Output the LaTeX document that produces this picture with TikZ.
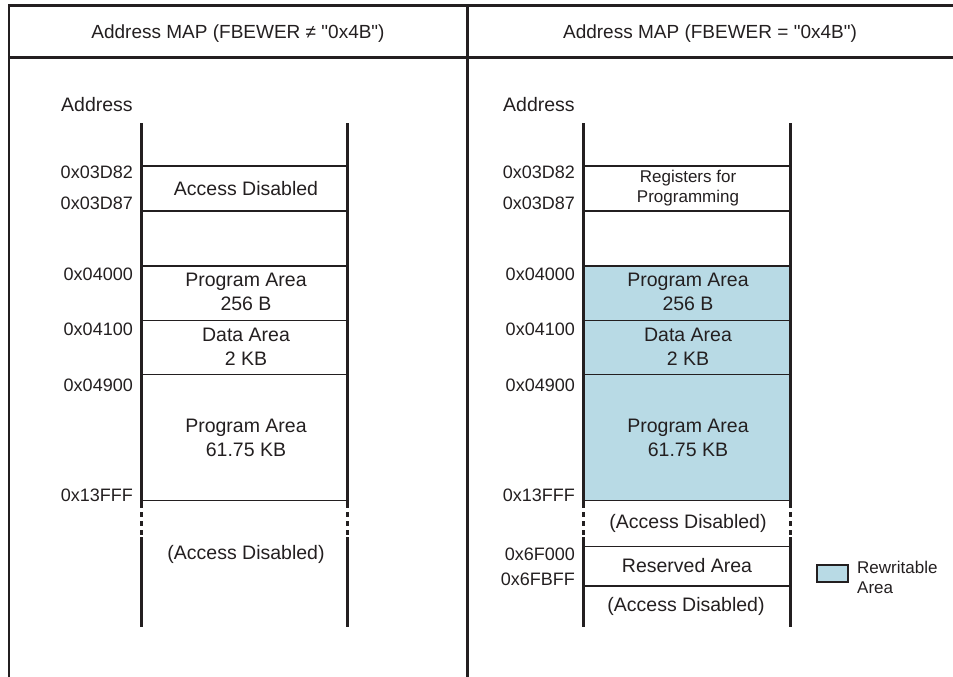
\documentclass[tikz,border=0pt]{standalone}
\usepackage{fontspec}
\setmainfont{Liberation Sans}[Ligatures=TeXOff]
\definecolor{ink}{HTML}{231F20}
\definecolor{rewblue}{HTML}{B8DAE5}
\begin{document}
\begin{tikzpicture}[x=1pt,y=-1pt,
  frame/.style={draw=ink,line width=2.6pt},
  colline/.style={draw=ink,line width=3pt},
  dotline/.style={draw=ink,line width=3pt,dash pattern=on 5pt off 4pt},
  sepline/.style={draw=ink,line width=1.5pt},
  title/.style={text=ink,font=\fontsize{19}{22}\selectfont,inner sep=0pt},
  main/.style={text=ink,font=\fontsize{19.5}{24}\selectfont,align=center,inner sep=0pt},
  small/.style={text=ink,font=\fontsize{17}{20}\selectfont,align=center,inner sep=0pt},
  addr/.style={text=ink,font=\fontsize{18}{21}\selectfont,anchor=east,inner sep=0pt},
  lbl/.style={text=ink,font=\fontsize{19.5}{23}\selectfont,anchor=west,inner sep=0pt}]
\useasboundingbox (0,0) rectangle (953,677);
% frame
\draw[frame] (9,677) -- (9,5.5) -- (953,5.5);
\draw[frame] (9,57.3) -- (953,57.3);
\draw[frame] (467.3,5.5) -- (467.3,677);
\node[title] (t1) at (238,34) {Address MAP (FBEWER ≠ "0x4B")};
\node[title] (t2) at (710,34) {Address MAP (FBEWER = "0x4B")};
\node[lbl] (a1) at (61,105) {Address};
\node[lbl] (a2) at (503,105) {Address};

% right column fill
\fill[rewblue] (583,266) rectangle (790,500);

% ---------- left column ----------
\foreach \y in {166,211,266,320.5,374.5,500.5}
  \draw[sepline] (141.5,\y) -- (347,\y);
\foreach \x in {141.5,347}{
  \draw[colline] (\x,123) -- (\x,503);
  \draw[dotline] (\x,503) -- (\x,537);
  \draw[colline] (\x,537) -- (\x,627);
}
\node[addr] (l1) at (133,172) {0x03D82};
\node[addr] (l2) at (133,203) {0x03D87};
\node[addr] (l3) at (133,274) {0x04000};
\node[addr] (l4) at (133,329) {0x04100};
\node[addr] (l5) at (133,385) {0x04900};
\node[addr] (l6) at (133,495) {0x13FFF};
\node[main] (lA) at (246,189) {Access Disabled};
\node[main] (lB) at (246,292) {Program Area\\256 B};
\node[main] (lC) at (246,347) {Data Area\\2 KB};
\node[main] (lD) at (246,438) {Program Area\\61.75 KB};
\node[main] (lE) at (246,554) {(Access Disabled)};

% ---------- right column ----------
\foreach \y in {166,211,266,320.5,374.5,500.5,546.5,586}
  \draw[sepline] (583,\y) -- (790,\y);
\foreach \x in {583,790}{
  \draw[colline] (\x,123) -- (\x,503);
  \draw[dotline] (\x,503) -- (\x,537);
  \draw[colline] (\x,537) -- (\x,627);
}
\node[addr] (r1) at (575,172) {0x03D82};
\node[addr] (r2) at (575,203) {0x03D87};
\node[addr] (r3) at (575,274) {0x04000};
\node[addr] (r4) at (575,329) {0x04100};
\node[addr] (r5) at (575,385) {0x04900};
\node[addr] (r6) at (575,495) {0x13FFF};
\node[addr] (r7) at (575,554) {0x6F000};
\node[addr] (r8) at (575,579) {0x6FBFF};
\node[small] (rA) at (688,188.5) {Registers for\\Programming};
\node[main] (rB) at (688,292) {Program Area\\256 B};
\node[main] (rC) at (688,347) {Data Area\\2 KB};
\node[main] (rD) at (688,438) {Program Area\\61.75 KB};
\node[main] (rE) at (688,523) {(Access Disabled)};
\node[main] (rF) at (687,566) {Reserved Area};
\node[main] (rG) at (686,606) {(Access Disabled)};

% legend
\node[draw=ink,line width=1.5pt,fill=rewblue,minimum width=31pt,minimum height=17pt,inner sep=0pt] (lg) at (832.5,573.5) {};
\node[small,align=left,anchor=west] (lgt) at (857,577) {Rewritable\\Area};
\end{tikzpicture}
\end{document}
